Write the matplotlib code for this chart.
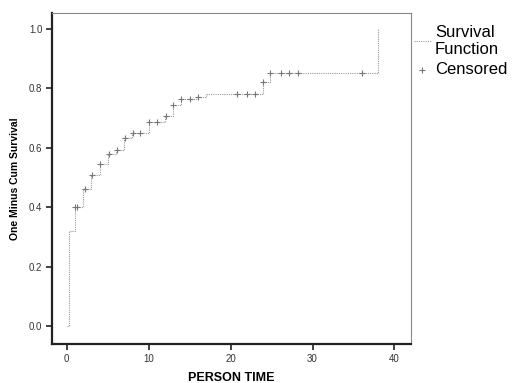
import numpy as np
import matplotlib.pyplot as plt

# step function (event times, one minus cum survival after the step)
event_t = [0, 0.3, 1.0, 2.0, 3.0, 4.0, 5.0, 6.0, 7.0, 8.0, 10.0, 12.0, 13.0, 14.0, 16.0, 17.0, 24.0, 24.8, 38.0]
event_y = [0.0, 0.32, 0.40, 0.46, 0.51, 0.545, 0.578, 0.592, 0.632, 0.649, 0.686, 0.706, 0.745, 0.763, 0.770, 0.783, 0.822, 0.851, 1.0]

# censored observations
cens_t = [1.0, 1.3, 2.2, 3.1, 4.0, 5.1, 6.1, 7.1, 8.1, 8.9, 10.0, 11.0, 12.1, 13.0, 14.0, 15.1, 16.0,
          20.8, 22.0, 23.0, 24.0, 24.8, 26.1, 27.1, 28.2, 36.1]
cens_y = [0.40, 0.40, 0.46, 0.51, 0.545, 0.578, 0.592, 0.632, 0.649, 0.649, 0.686, 0.686, 0.706, 0.745, 0.763, 0.763, 0.770,
          0.783, 0.783, 0.783, 0.822, 0.851, 0.851, 0.851, 0.851, 0.851]

plt.rcParams['font.family'] = ['Liberation Sans', 'DejaVu Sans']

fig = plt.figure(figsize=(5.17, 3.83), dpi=100)
ax = fig.add_axes([0.1006, 0.102, 0.694, 0.864])

line, = ax.step(event_t + [event_t[-1]], event_y + [event_y[-1]], where='post',
                color='#9a9a9a', lw=0.8, ls=(0, (1, 1)))
cens = ax.scatter(cens_t, cens_y, marker='+', s=24, color='#777777', linewidths=0.8, zorder=3)

ax.set_xlim(-1.8, 42)
ax.set_ylim(-0.06, 1.054)
ax.set_xticks([0, 10, 20, 30, 40])
ax.set_yticks([0.0, 0.2, 0.4, 0.6, 0.8, 1.0])
ax.set_yticklabels(['0.0', '0.2', '0.4', '0.6', '0.8', '1.0'])
ax.tick_params(labelsize=7, length=4, width=1.2, color='#222222', labelcolor='#333333', pad=3)

for s in ['left', 'bottom']:
    ax.spines[s].set_linewidth(1.6)
    ax.spines[s].set_color('#222222')
for s in ['top', 'right']:
    ax.spines[s].set_linewidth(0.8)
    ax.spines[s].set_color('#888888')

ax.set_xlabel('PERSON TIME', fontsize=9, fontweight='bold', labelpad=6)
ax.set_ylabel('One Minus Cum Survival', fontsize=7.5, fontweight='bold', labelpad=6)

ax.legend([line, cens], ['Survival\nFunction', 'Censored'], loc='upper left',
          bbox_to_anchor=(1.0, 0.975), frameon=False, fontsize=12,
          handlelength=1.0, handletextpad=0.25, labelspacing=0.3,
          borderaxespad=0.0, borderpad=0.2)

fig.savefig('out.png', dpi=100)
